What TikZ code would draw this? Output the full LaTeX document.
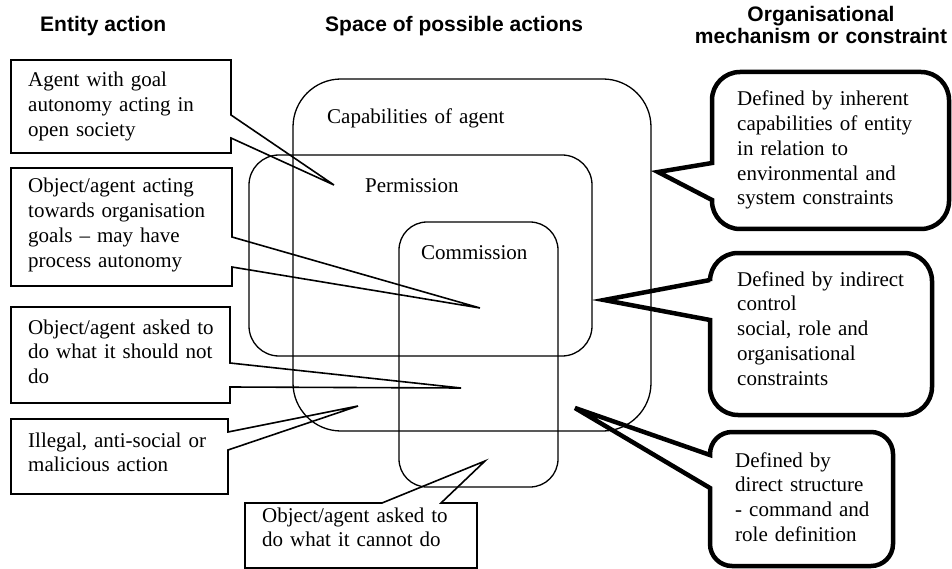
\documentclass[tikz,border=0pt]{standalone}
\usepackage{fontspec}
\setmainfont{Liberation Serif}
\setsansfont{Liberation Sans}
\tikzset{
  txt/.style={font=\fontsize{21}{24.75}\selectfont, align=left, text width=225pt, inner sep=0pt, anchor=base west},
  head/.style={font=\sffamily\bfseries\fontsize{21}{22}\selectfont, inner sep=0pt},
  region/.style={draw, line width=1.3pt, rounded corners=#1, inner sep=0pt},
  leftcall/.style={draw, line width=1.6pt},
  rightcall/.style={draw, line width=4.5pt},
}
\newcommand\rcall[8]{%
  \draw[rightcall] (#1,#6) -- (#1,{#2+#5}) arc[start angle=180,end angle=270,radius=#5]
    -- ({#3-#5},#2) arc[start angle=270,end angle=360,radius=#5]
    -- (#3,{#4-#5}) arc[start angle=0,end angle=90,radius=#5]
    -- ({#1+#5},#4) arc[start angle=90,end angle=180,radius=#5]
    -- (#1,#7) -- (#8) -- cycle;}
\begin{document}
\begin{tikzpicture}[x=1pt,y=-1pt]
\useasboundingbox (0,0) rectangle (952,569);

% headings
\node[head, anchor=base west] (h1) at (40,32) {Entity action};
\node[head, anchor=base west] (h2) at (325,32) {Space of possible actions};
\node[head, anchor=base, align=center, text width=270pt] (h3) at (821,22) {Organisational\\mechanism or constraint};

% nested regions
\node[region=48, minimum width=358pt, minimum height=352pt] (cap) at (472,255) {};
\node[region=30, minimum width=343pt, minimum height=201pt] (perm) at (420.5,255.5) {};
\node[region=28, minimum width=159pt, minimum height=265pt] (comm) at (478.5,354.5) {};
\node[txt] (capl) at (327,124) {Capabilities of agent};
\node[txt] (perml) at (365,193) {Permission};
\node[txt] (comml) at (421,259) {Commission};

% left callouts
\coordinate (t1) at (334,185);
\coordinate (t2) at (480,308);
\coordinate (t3) at (461,388);
\coordinate (t4) at (358,406);
\coordinate (t5) at (485,461);
\draw[leftcall] (11,60) -- (231,60) -- (231,115) -- (t1) -- (231,138) -- (231,153) -- (11,153) -- cycle;
\draw[leftcall] (11,168) -- (232,168) -- (232,237) -- (t2) -- (232,267) -- (232,286) -- (11,286) -- cycle;
\draw[leftcall] (11,307) -- (230,307) -- (230,363) -- (t3) -- (230,387) -- (230,403) -- (11,403) -- cycle;
\draw[leftcall] (11,419) -- (228,419) -- (228,432) -- (t4) -- (228,450) -- (228,494) -- (11,494) -- cycle;
\draw[leftcall] (245,503) -- (382,503) -- (t5) -- (441,503) -- (477,503) -- (477,568) -- (245,568) -- cycle;

\node[txt] (e1) at (28,87) {Agent with goal\\autonomy acting in\\open society};
\node[txt] (e2) at (28,193) {Object/agent acting\\towards organisation\\goals -- may have\\process autonomy};
\node[txt] (e3) at (28,334) {Object/agent asked to\\do what it should not\\do};
\node[txt] (e4) at (28,447) {Illegal, anti-social or\\malicious action};
\node[txt] (e5) at (262,522) {Object/agent asked to\\do what it cannot do};

% right callouts
\coordinate (r1) at (658,172);
\coordinate (r2) at (604,300);
\coordinate (r3) at (575,408);
\rcall{712}{72}{949}{229}{28}{163}{200}{r1}
\rcall{710}{253}{932}{415}{28}{280}{320}{r2}
\rcall{710}{432}{893}{566}{22}{455}{488}{r3}

\node[txt] (m1) at (737,106) {Defined by inherent\\capabilities of entity\\in relation to\\environmental and\\system constraints};
\node[txt] (m2) at (737,286) {Defined by indirect\\control\\social, role and\\organisational\\constraints};
\node[txt] (m3) at (735,467) {Defined by\\direct structure\\- command and\\role definition};
\end{tikzpicture}
\end{document}
